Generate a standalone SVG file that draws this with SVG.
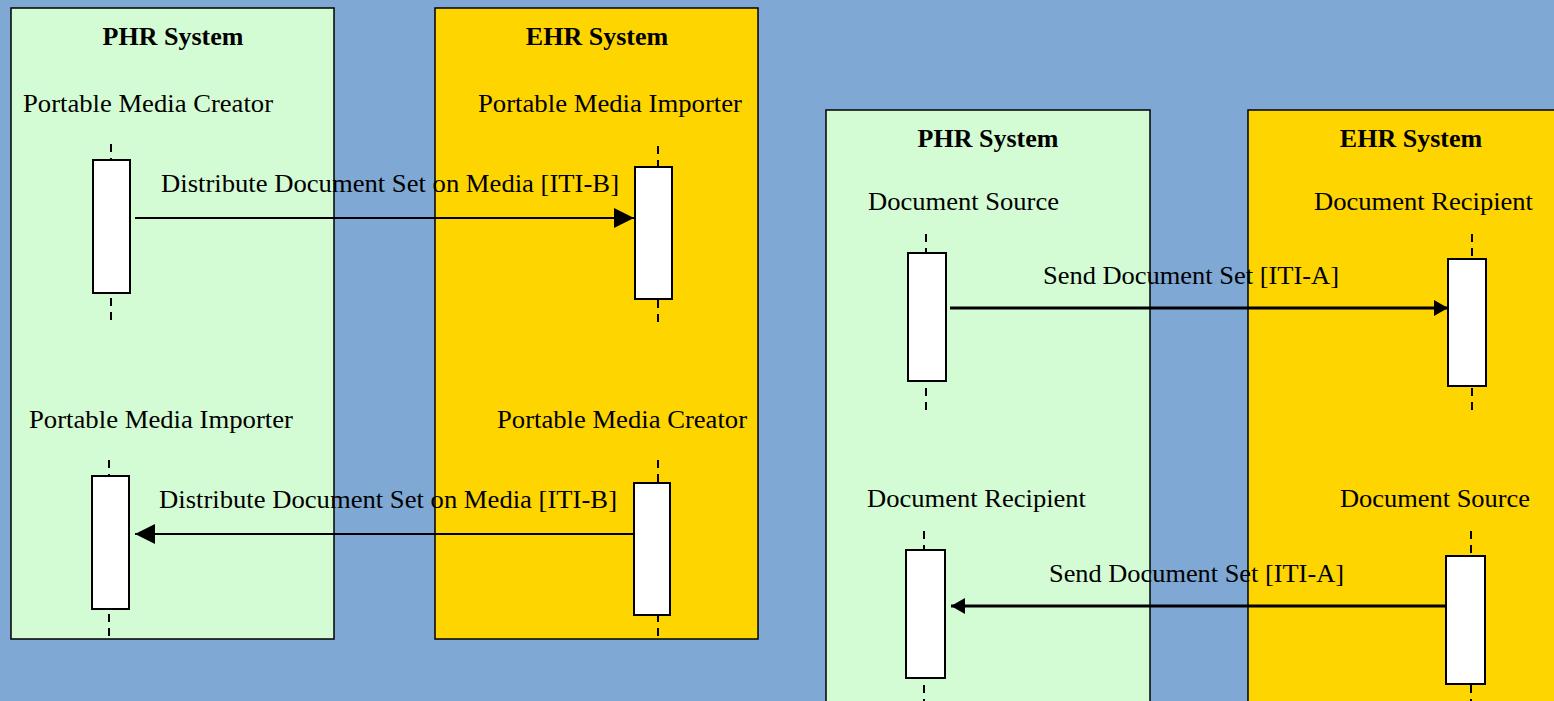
<svg xmlns="http://www.w3.org/2000/svg" width="1554" height="701" viewBox="0 0 1554 701">
<style>
.phr{fill:#D4FCD4;stroke:#000;stroke-width:1.5}
.ehr{fill:#FFD500;stroke:#000;stroke-width:1.5}
.ttl{font-family:"Liberation Serif","Times New Roman",serif;font-weight:bold;font-size:26px;text-anchor:middle;fill:#000}
.lbl{font-family:"Liberation Serif","Times New Roman",serif;font-size:26px;fill:#000}
.life{stroke:#000;stroke-width:2;stroke-dasharray:8,6;fill:none}
.act{fill:#fff;stroke:#000;stroke-width:2}
.msg{stroke:#000;stroke-width:2;fill:none}
.msg3{stroke:#000;stroke-width:3;fill:none}
</style>
<defs>
<marker id="ah" markerWidth="20" markerHeight="20" refX="20" refY="10" orient="auto" markerUnits="userSpaceOnUse"><path d="M0,0 L20,10 L0,20 Z" fill="#000"/></marker>
<marker id="ah2" markerWidth="14" markerHeight="16" refX="14" refY="8" orient="auto" markerUnits="userSpaceOnUse"><path d="M0,0 L14,8 L0,16 Z" fill="#000"/></marker>
</defs>
<rect x="0" y="0" width="1554" height="701" fill="#7FA8D5"/>
<g id="phr-left"><rect class="phr" x="11" y="8" width="323" height="631"/><text class="ttl" x="173" y="45">PHR System</text></g>
<g id="ehr-left"><rect class="ehr" x="435" y="8" width="323" height="631"/><text class="ttl" x="597" y="45">EHR System</text></g>
<g id="phr-right"><rect class="phr" x="826" y="110" width="324" height="600"/><text class="ttl" x="988" y="147">PHR System</text></g>
<g id="ehr-right"><rect class="ehr" x="1248" y="110" width="320" height="600"/><text class="ttl" x="1411" y="147">EHR System</text></g>

<g id="pmc1"><text class="lbl" x="23" y="112" textLength="250" lengthAdjust="spacingAndGlyphs">Portable Media Creator</text><line class="life" x1="111" y1="144" x2="111" y2="324"/><rect class="act" x="93" y="160" width="37" height="133"/></g>
<g id="pmi1"><text class="lbl" x="478" y="112" textLength="264" lengthAdjust="spacingAndGlyphs">Portable Media Importer</text><line class="life" x1="658" y1="146" x2="658" y2="323"/><rect class="act" x="635" y="167" width="37" height="132"/></g>
<g id="pmi2"><text class="lbl" x="29" y="428" textLength="264" lengthAdjust="spacingAndGlyphs">Portable Media Importer</text><line class="life" x1="109" y1="460" x2="109" y2="639"/><rect class="act" x="92" y="476" width="37" height="133"/></g>
<g id="pmc2"><text class="lbl" x="497" y="428" textLength="250" lengthAdjust="spacingAndGlyphs">Portable Media Creator</text><line class="life" x1="658" y1="460" x2="658" y2="639"/><rect class="act" x="634" y="483" width="36" height="132"/></g>

<g id="ds1"><text class="lbl" x="868" y="210" textLength="191" lengthAdjust="spacingAndGlyphs">Document Source</text><line class="life" x1="926" y1="234" x2="926" y2="410"/><rect class="act" x="908" y="253" width="38" height="128"/></g>
<g id="dr1"><text class="lbl" x="1314" y="210" textLength="219" lengthAdjust="spacingAndGlyphs">Document Recipient</text><line class="life" x1="1472" y1="234" x2="1472" y2="410"/><rect class="act" x="1448" y="259" width="38" height="127"/></g>
<g id="dr2"><text class="lbl" x="867" y="507" textLength="219" lengthAdjust="spacingAndGlyphs">Document Recipient</text><line class="life" x1="924" y1="531" x2="924" y2="701"/><rect class="act" x="906" y="550" width="39" height="128"/></g>
<g id="ds2"><text class="lbl" x="1340" y="507" textLength="190" lengthAdjust="spacingAndGlyphs">Document Source</text><line class="life" x1="1471" y1="531" x2="1471" y2="701"/><rect class="act" x="1446" y="556" width="39" height="128"/></g>

<g id="connectors">
<line class="msg" x1="135" y1="218" x2="634" y2="218" marker-end="url(#ah)"/>
<text class="lbl" x="161" y="192" textLength="458" lengthAdjust="spacingAndGlyphs">Distribute Document Set on Media [ITI-B]</text>
<line class="msg" x1="634" y1="534" x2="135" y2="534" marker-end="url(#ah)"/>
<text class="lbl" x="159" y="508" textLength="458" lengthAdjust="spacingAndGlyphs">Distribute Document Set on Media [ITI-B]</text>
<line class="msg3" x1="950" y1="308" x2="1448" y2="308" marker-end="url(#ah2)"/>
<text class="lbl" x="1043" y="284" textLength="296" lengthAdjust="spacingAndGlyphs">Send Document Set [ITI-A]</text>
<line class="msg3" x1="1446" y1="606" x2="951" y2="606" marker-end="url(#ah2)"/>
<text class="lbl" x="1049" y="582" textLength="295" lengthAdjust="spacingAndGlyphs">Send Document Set [ITI-A]</text>
</g>
</svg>
